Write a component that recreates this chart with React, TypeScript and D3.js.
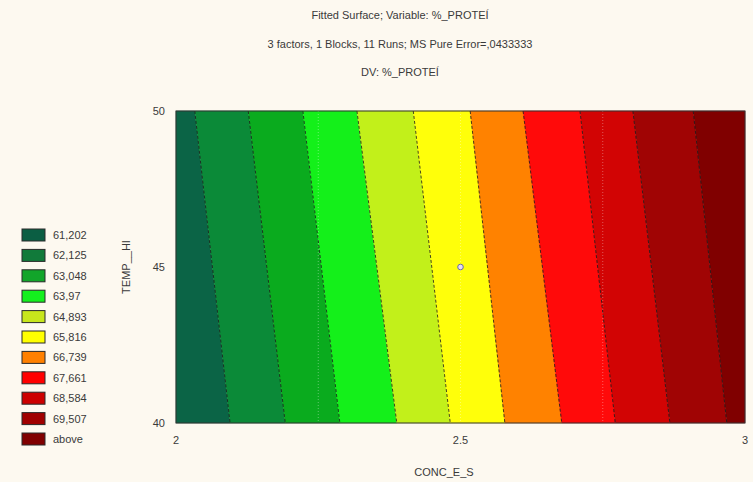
import React from "react";
import * as d3 from "d3";

// Contour levels (upper bound of each band) and their fills
const levelLabels = ["61,202", "62,125", "63,048", "63,97", "64,893", "65,816", "66,739", "67,661", "68,584", "69,507", "above"];
const levelColors = ["#0b6446", "#0b8a38", "#0aab1e", "#14f01a", "#c2f01a", "#ffff0a", "#ff8200", "#ff0a0a", "#d20404", "#a00404", "#800000"];
const legendColors = ["#0b5e43", "#117a3a", "#12a52a", "#14f01e", "#c7e61c", "#ffff00", "#ff8000", "#ff0000", "#cc0000", "#a00000", "#800000"];

// Where each contour level crosses the top (TEMP 50) and bottom (TEMP 40) edges, in CONC_E_S units
const contourConcAt50 = [2.033, 2.127, 2.223, 2.318, 2.417, 2.517, 2.610, 2.710, 2.803, 2.909];
const contourConcAt40 = [2.095, 2.192, 2.288, 2.388, 2.482, 2.578, 2.678, 2.772, 2.868, 2.968];

const xTicks = [2, 2.5, 3];
const yTicks = [40, 45, 50];
const gridConc = [2.25, 2.5, 2.75];
const designPoints = [{ conc: 2.5, temp: 45 }];

const titleLines = [
  "Fitted Surface; Variable: %_PROTEÍ",
  "3 factors, 1 Blocks, 11 Runs; MS Pure Error=,0433333",
  "DV: %_PROTEÍ",
];

const W = 753;
const H = 482;
const font = "'Liberation Sans', Arial, sans-serif";
const textColor = "#3a3a3a";

export default function App() {
  const x = d3.scaleLinear().domain([2, 3]).range([176, 745]);
  const y = d3.scaleLinear().domain([40, 50]).range([423, 111]);

  const leftEdge = { top: 2, bottom: 2 };
  const rightEdge = { top: 3, bottom: 3 };
  const edges = [
    leftEdge,
    ...contourConcAt50.map((c, i) => ({ top: c, bottom: contourConcAt40[i] })),
    rightEdge,
  ];

  const line = d3.line<[number, number]>().x((d) => x(d[0])).y((d) => y(d[1]));

  const bands = levelColors.map((color, i) => {
    const a = edges[i];
    const b = edges[i + 1];
    const pts: [number, number][] = [
      [a.top, 50],
      [b.top, 50],
      [b.bottom, 40],
      [a.bottom, 40],
    ];
    return { color, d: line(pts) + "Z" };
  });

  const legendY = d3.scaleLinear().domain([0, levelLabels.length - 1]).range([235, 439]);

  return (
    <svg
      width={W}
      height={H}
      style={{ position: "absolute", left: 0, top: 0, background: "#fdf9f0" }}
      fontFamily={font}
    >
      <rect x={0} y={0} width={W} height={H} fill="#fdf9f0" />

      {titleLines.map((t, i) => (
        <text key={i} x={400} y={[19, 48, 76][i]} textAnchor="middle" fontSize={11} fill={textColor}>
          {t}
        </text>
      ))}

      {bands.map((b, i) => (
        <path key={i} d={b.d} fill={b.color} stroke={b.color} strokeWidth={0.5} />
      ))}

      {gridConc.map((c) => (
        <line
          key={c}
          x1={x(c)}
          x2={x(c)}
          y1={y(50)}
          y2={y(40)}
          stroke="#ffffff"
          strokeOpacity={0.35}
          strokeDasharray="1,2"
        />
      ))}

      {contourConcAt50.map((c, i) => (
        <path
          key={i}
          d={line([
            [c, 50],
            [contourConcAt40[i], 40],
          ]) ?? ""}
          fill="none"
          stroke="#1a1a1a"
          strokeWidth={1}
          strokeDasharray="3,2"
          strokeOpacity={0.8}
        />
      ))}

      <rect
        x={x(2)}
        y={y(50)}
        width={x(3) - x(2)}
        height={y(40) - y(50)}
        fill="none"
        stroke="#333"
        strokeWidth={1}
      />

      {designPoints.map((p, i) => (
        <circle key={i} cx={x(p.conc)} cy={y(p.temp)} r={2.8} fill="#e6dcf5" stroke="#6a6aa8" strokeWidth={1} />
      ))}

      {yTicks.map((t) => (
        <text key={t} x={165} y={y(t) + 4} textAnchor="end" fontSize={11} fill={textColor}>
          {t}
        </text>
      ))}
      {xTicks.map((t) => (
        <text key={t} x={x(t)} y={444} textAnchor="middle" fontSize={11} fill={textColor}>
          {t}
        </text>
      ))}

      <text
        transform={`translate(${130},${267}) rotate(-90)`}
        textAnchor="middle"
        fontSize={11}
        fill={textColor}
      >
        TEMP__HI
      </text>
      <text x={444} y={476} textAnchor="middle" fontSize={11} fill={textColor}>
        CONC_E_S
      </text>

      {levelLabels.map((lab, i) => (
        <g key={lab} transform={`translate(0,${legendY(i)})`}>
          <rect x={22} y={-6} width={23} height={12} fill={legendColors[i]} stroke="#2a2a2a" strokeWidth={1} />
          <text x={53} y={4} fontSize={11} fill={textColor}>
            {lab}
          </text>
        </g>
      ))}
    </svg>
  );
}
